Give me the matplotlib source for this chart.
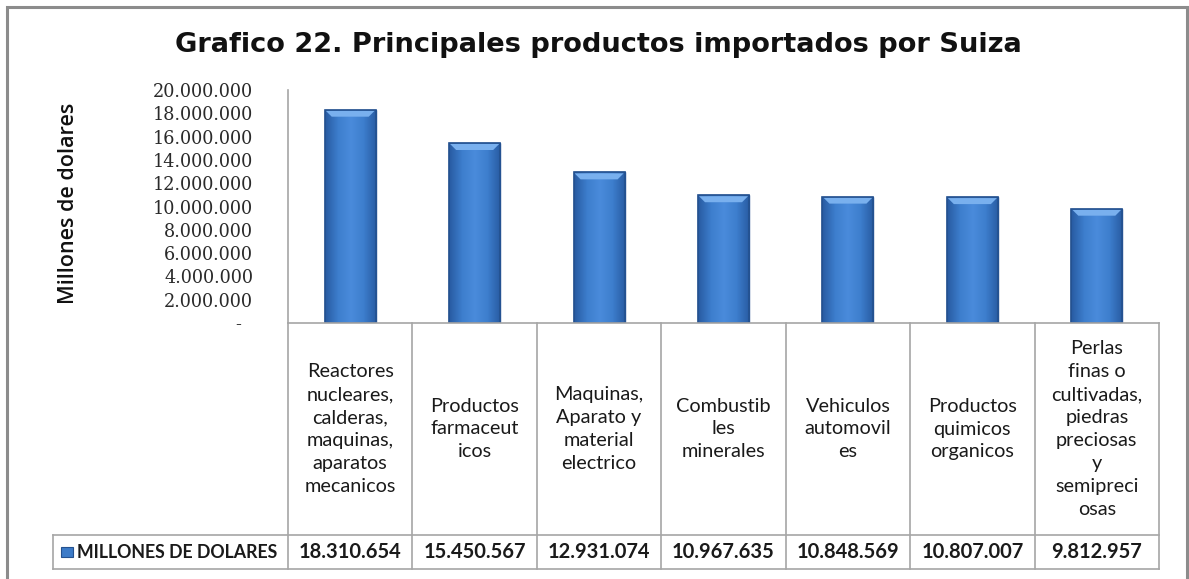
import matplotlib
matplotlib.use("Agg")
import matplotlib.pyplot as plt
import numpy as np
from matplotlib.patches import Rectangle, Polygon
from matplotlib.colors import LinearSegmentedColormap

# ---------------- data ----------------
categories = [
    "Reactores\nnucleares,\ncalderas,\nmaquinas,\naparatos\nmecanicos",
    "Productos\nfarmaceut\nicos",
    "Maquinas,\nAparato y\nmaterial\nelectrico",
    "Combustib\nles\nminerales",
    "Vehiculos\nautomovil\nes",
    "Productos\nquimicos\norganicos",
    "Perlas\nfinas o\ncultivadas,\npiedras\npreciosas\ny\nsemipreci\nosas",
]
values = [18310654, 15450567, 12931074, 10967635, 10848569, 10807007, 9812957]
series_name = "MILLONES DE DOLARES"
title = "Grafico 22. Principales productos importados por Suiza"
ylabel = "Millones de dolares"
yticks = [0, 2000000, 4000000, 6000000, 8000000, 10000000, 12000000,
          14000000, 16000000, 18000000, 20000000]


def fmt(v):
    if v == 0:
        return "-  "
    return f"{v:,.0f}".replace(",", ".")


W, H = 1189, 579
fig = plt.figure(figsize=(W / 100, H / 100), dpi=100)
fig.patch.set_facecolor("white")

# outer frame
frame = Rectangle((7 / W, -0.05), (1187 - 7) / W, (H - 7) / H + 0.05,
                  transform=fig.transFigure, fill=False, edgecolor="#8c8c8c",
                  linewidth=2.2, zorder=0)
fig.patches.append(frame)

# ---------------- main bar axes ----------------
x0, x1 = 288, 1159
y_top, y_zero = 90, 323
ax = fig.add_axes([x0 / W, (H - y_zero) / H, (x1 - x0) / W, (y_zero - y_top) / H])
n = len(values)
xs = np.arange(n)
bars = ax.bar(xs, values, width=0.41, color="#3C7BC8", edgecolor="#24518f",
              linewidth=1.0, zorder=3)
ax.set_xlim(-0.5, n - 0.5)
ax.set_ylim(0, 20000000)
ax.set_yticks(yticks)
ax.set_yticklabels([fmt(v) for v in yticks], fontfamily="DejaVu Serif",
                   fontsize=12.7, color="#2a2a2a")
ax.tick_params(axis="y", length=0, pad=25)
ax.set_xticks([])
for s in ["top", "right", "bottom"]:
    ax.spines[s].set_visible(False)
ax.spines["left"].set_color("#a6a6a6")
ax.spines["left"].set_linewidth(1.2)
ax.patch.set_alpha(0)

# gradient fill + top bevel for each bar
cmap = LinearSegmentedColormap.from_list(
    "barg", ["#285ba2", "#3d7ecd", "#4a8bdb", "#3d7ecd", "#285ba2"])
grad = np.linspace(0, 1, 64).reshape(1, -1)
fig.canvas.draw()
for b in bars:
    bx, bw, bh = b.get_x(), b.get_width(), b.get_height()
    im = ax.imshow(grad, extent=[bx, bx + bw, 0, bh], aspect="auto",
                   cmap=cmap, zorder=3.5, interpolation="bicubic")
    im.set_clip_path(b)
    # bevel at top (in display pixels)
    bb = b.get_window_extent()
    d = 7
    top = Polygon([(bb.x0 + 1, bb.y1 - 1), (bb.x1 - 1, bb.y1 - 1),
                   (bb.x1 - d, bb.y1 - d), (bb.x0 + d, bb.y1 - d)],
                  closed=True, transform=None, facecolor="#79b0ee",
                  edgecolor="none", zorder=4)
    ax.add_artist(top)
    edge = Rectangle((bx, 0), bw, bh, fill=False, edgecolor="#24518f",
                     linewidth=1.2, zorder=5)
    ax.add_patch(edge)

# title and y label
fig.text(598 / W, 1 - 45 / H, title, ha="center", va="center",
         fontfamily="DejaVu Sans", fontweight="bold", fontsize=19.6,
         color="#111111")
fig.text(69 / W, 1 - 203 / H, ylabel, ha="center", va="center",
         rotation=90, fontfamily="Open Sans", fontweight="semibold",
         fontsize=15.5, color="#111111")

# ---------------- data table ----------------
leg_left, tbl_bottom = 53, 569
unit_px = (x1 - x0) / n
leg_units = (x0 - leg_left) / unit_px
tab = fig.add_axes([leg_left / W, (H - tbl_bottom) / H,
                    (x1 - leg_left) / W, (tbl_bottom - y_zero) / H])
tab.set_xlim(-0.5 - leg_units, n - 0.5)
tab.set_ylim(0, tbl_bottom - y_zero)
tab.axis("off")
row_h = 34
total_h = tbl_bottom - y_zero
lc = "#a6a6a6"
lw = 1.2
# horizontal lines
tab.plot([-0.5, n - 0.5], [total_h, total_h], color=lc, lw=lw, clip_on=False)
tab.plot([-0.5 - leg_units, n - 0.5], [row_h, row_h], color=lc, lw=lw, clip_on=False)
tab.plot([-0.5 - leg_units, n - 0.5], [0, 0], color=lc, lw=lw, clip_on=False)
# vertical lines
for i in range(n + 1):
    tab.plot([i - 0.5, i - 0.5], [0, total_h], color=lc, lw=lw, clip_on=False)
tab.plot([-0.5 - leg_units] * 2, [0, row_h], color=lc, lw=lw, clip_on=False)

for i, (c, v) in enumerate(zip(categories, values)):
    tab.text(i, row_h + (total_h - row_h) / 2, c, ha="center", va="center",
             fontfamily="Lato", fontsize=14.3, linespacing=1.42, color="#1a1a1a")
    tab.text(i, row_h / 2, fmt(v), ha="center", va="center",
             fontfamily="Lato", fontweight="bold", fontsize=14.5,
             color="#1a1a1a")

# legend key + name
key_x = -0.5 - leg_units + 8 / unit_px
tab.add_patch(Rectangle((key_x, row_h / 2 - 5), 12 / unit_px, 10,
                        facecolor="#3C7BC8", edgecolor="#24518f", lw=0.8))
tab.text(key_x + 16 / unit_px, row_h / 2, series_name, ha="left", va="center",
         fontfamily="Lato", fontweight="bold", fontsize=12.8, color="#1a1a1a")

fig.savefig("out.png", dpi=100, facecolor="white")
